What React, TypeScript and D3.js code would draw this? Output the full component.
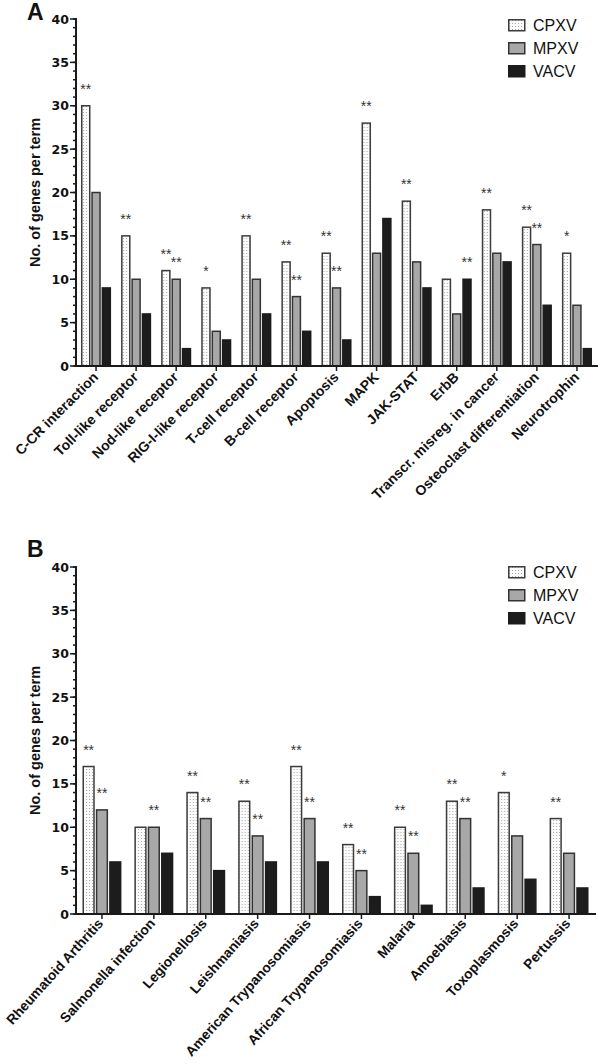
import React from 'react';
import * as d3 from 'd3';

const seriesNames = ['CPXV', 'MPXV', 'VACV'];

const catsA = [
  'C-CR interaction', 'Toll-like receptor', 'Nod-like receptor', 'RIG-I-like receptor',
  'T-cell receptor', 'B-cell receptor', 'Apoptosis', 'MAPK', 'JAK-STAT', 'ErbB',
  'Transcr. misreg. in cancer', 'Osteoclast differentiation', 'Neurotrophin',
];
const cpxvA = [30, 15, 11, 9, 15, 12, 13, 28, 19, 10, 18, 16, 13];
const mpxvA = [20, 10, 10, 4, 10, 8, 9, 13, 12, 6, 13, 14, 7];
const vacvA = [9, 6, 2, 3, 6, 4, 3, 17, 9, 10, 12, 7, 2];
const starsCpxvA = ['**', '**', '**', '*', '**', '**', '**', '**', '**', '', '**', '**', '*'];
const starsMpxvA = ['', '', '**', '', '', '**', '**', '', '', '', '', '**', ''];
const starsVacvA = ['', '', '', '', '', '', '', '', '', '**', '', '', ''];

const catsB = [
  'Rheumatoid Arthritis', 'Salmonella infection', 'Legionellosis', 'Leishmaniasis',
  'American Trypanosomiasis', 'African Trypanosomiasis', 'Malaria', 'Amoebiasis',
  'Toxoplasmosis', 'Pertussis',
];
const cpxvB = [17, 10, 14, 13, 17, 8, 10, 13, 14, 11];
const mpxvB = [12, 10, 11, 9, 11, 5, 7, 11, 9, 7];
const vacvB = [6, 7, 5, 6, 6, 2, 1, 3, 4, 3];
const starsCpxvB = ['**', '', '**', '**', '**', '**', '**', '**', '*', '**'];
const starsMpxvB = ['**', '**', '**', '**', '**', '**', '**', '**', '', ''];
const starsVacvB = ['', '', '', '', '', '', '', '', '', ''];

const yMajorTicks = [0, 5, 10, 15, 20, 25, 30, 35, 40];
const yMinorTicks = d3.range(0, 41);

const FILLS = ['url(#dots)', '#a8a8a8', '#1c1c1c'];
const STROKES = ['#3c3c3c', '#333333', '#1c1c1c'];
const SANS = '"Liberation Sans", Arial, sans-serif';

type PanelProps = {
  letter: string;
  letterY: number;
  cats: string[];
  values: number[][];
  stars: string[][];
  yTop: number;
  yBottom: number;
  xRight: number;
  legendY: number;
  labelSize: number;
  labelAngle: number;
  labelDx: number;
  labelDy: number;
};

function Panel({
  letter, letterY, cats, values, stars, yTop, yBottom, xRight, legendY,
  labelSize, labelAngle, labelDx, labelDy,
}: PanelProps) {
  const x0 = 76;
  const y = d3.scaleLinear().domain([0, 40]).range([yBottom, yTop]);
  const x = d3.scaleBand<string>().domain(cats).range([x0, xRight]).padding(0);
  const bw = x.bandwidth();
  const inner = d3
    .scaleBand<string>()
    .domain(seriesNames)
    .range([bw * 0.125, bw * 0.875])
    .paddingInner(0.08);
  const barW = inner.bandwidth();
  const midY = (yTop + yBottom) / 2;

  return (
    <g>
      <text x={27} y={letterY} fontFamily={SANS} fontWeight="bold" fontSize={23} fill="#111">
        {letter}
      </text>
      {/* y axis label */}
      <text
        transform={`translate(40,${midY}) rotate(-90)`}
        textAnchor="middle"
        fontFamily={SANS}
        fontWeight="bold"
        fontSize={14.5}
        fill="#111"
      >
        No. of genes per term
      </text>
      {/* bars */}
      {cats.map((c, i) => (
        <g key={c} transform={`translate(${x(c)},0)`}>
          {seriesNames.map((s, k) => {
            const v = values[k][i];
            const bx = inner(s)!;
            return (
              <g key={s}>
                <rect
                  x={bx + 0.75}
                  y={y(v)}
                  width={barW - 1.5}
                  height={y(0) - y(v)}
                  fill={FILLS[k]}
                  stroke={STROKES[k]}
                  strokeWidth={1.5}
                />
                {stars[k][i] ? (
                  <text
                    x={bx + barW / 2}
                    y={y(v) - 12}
                    textAnchor="middle"
                    fontFamily={SANS}
                    fontSize={14}
                    fill="#333"
                  >
                    {stars[k][i]}
                  </text>
                ) : null}
              </g>
            );
          })}
        </g>
      ))}
      {/* y axis */}
      <line x1={x0} x2={x0} y1={y(40) - 1} y2={y(0)} stroke="#1a1a1a" strokeWidth={2} />
      {yMinorTicks.map((t) => (
        <line key={`m${t}`} x1={x0 - 3} x2={x0} y1={y(t)} y2={y(t)} stroke="#1a1a1a" strokeWidth={1.5} />
      ))}
      {yMajorTicks.map((t) => (
        <g key={`M${t}`}>
          <line x1={x0 - 6} x2={x0} y1={y(t)} y2={y(t)} stroke="#1a1a1a" strokeWidth={1.5} />
          <text
            x={x0 - 7}
            y={y(t)}
            dy="0.36em"
            textAnchor="end"
            fontFamily='"DejaVu Sans", sans-serif'
            fontWeight="bold"
            fontSize={12.5}
            fill="#111"
          >
            {t}
          </text>
        </g>
      ))}
      {/* x axis */}
      <line x1={x0 - 1} x2={xRight + 1} y1={y(0)} y2={y(0)} stroke="#1a1a1a" strokeWidth={2} />
      {cats.map((c) => {
        const cx = x(c)! + bw / 2;
        return (
          <g key={`t${c}`}>
            <line x1={cx} x2={cx} y1={y(0)} y2={y(0) + 5} stroke="#1a1a1a" strokeWidth={1.5} />
            <text
              transform={`translate(${cx + labelDx},${y(0) + labelDy}) rotate(${-labelAngle})`}
              textAnchor="end"
              fontFamily={SANS}
              fontWeight="bold"
              fontSize={labelSize}
              fill="#111"
            >
              {c}
            </text>
          </g>
        );
      })}
      {/* legend */}
      {seriesNames.map((s, k) => (
        <g key={`lg${s}`} transform={`translate(508,${legendY + k * 23})`}>
          <rect x={0.75} y={0.75} width={16} height={11} fill={FILLS[k]} stroke={STROKES[k]} strokeWidth={1.5} />
          <text x={25} y={6} dy="0.36em" fontFamily={SANS} fontSize={16} fill="#111">
            {s}
          </text>
        </g>
      ))}
    </g>
  );
}

export default function App() {
  return (
    <svg
      width={600}
      height={1064}
      viewBox="0 0 600 1064"
      style={{ position: 'absolute', left: 0, top: 0, background: '#fff' }}
    >
      <defs>
        <pattern id="dots" width={3} height={3} patternUnits="userSpaceOnUse">
          <rect width={3} height={3} fill="#fbfbfb" />
          <rect x={1} y={1} width={1} height={1} fill="#a8a8a8" />
        </pattern>
      </defs>
      <rect width={600} height={1064} fill="#fff" />
      <Panel
        letter="A"
        letterY={20}
        cats={catsA}
        values={[cpxvA, mpxvA, vacvA]}
        stars={[starsCpxvA, starsMpxvA, starsVacvA]}
        yTop={19}
        yBottom={366}
        xRight={597}
        legendY={19}
        labelSize={14}
        labelAngle={45}
        labelDx={3}
        labelDy={12}
      />
      <Panel
        letter="B"
        letterY={557}
        cats={catsB}
        values={[cpxvB, mpxvB, vacvB]}
        stars={[starsCpxvB, starsMpxvB, starsVacvB]}
        yTop={567}
        yBottom={914}
        xRight={595}
        legendY={566}
        labelSize={13.8}
        labelAngle={48}
        labelDx={2}
        labelDy={10}
      />
    </svg>
  );
}
